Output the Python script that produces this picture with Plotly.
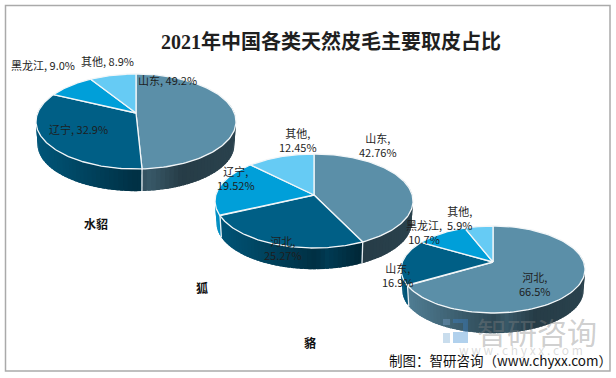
import numpy as np
import plotly.graph_objects as go

W, H = 616, 378
TITLE = "2021年中国各类天然皮毛主要取皮占比"
FOOTER = "制图：智研咨询（www.chyxx.com）"

mink_regions = ["山东", "辽宁", "黑龙江", "其他"]
mink_values = [49.2, 32.9, 9.0, 8.9]
mink_labels = ["山东, 49.2%", "辽宁, 32.9%", "黑龙江, 9.0%", "其他, 8.9%"]

fox_regions = ["山东", "河北", "辽宁", "其他"]
fox_values = [42.76, 25.27, 19.52, 12.45]
fox_labels = ["山东,<br>42.76%", "河北,<br>25.27%", "辽宁,<br>19.52%", "其他,<br>12.45%"]

raccoon_regions = ["河北", "山东", "黑龙江", "其他"]
raccoon_values = [66.5, 16.9, 10.7, 5.9]
raccoon_labels = ["河北,<br>66.5%", "山东,<br>16.9%", "黑龙江,<br>10.7%", "其他,<br>5.9%"]

COLORS = [(91, 143, 168), (0, 95, 134), (0, 159, 217), (102, 203, 244)]

# left, right, top, bottom of top face, apex y, depth
PIES = [
    dict(name="水貂", vals=mink_values, labels=mink_labels, box=(36, 236, 74, 169), apex=113, depth=23,
         lpos=[(167, 80), (78, 129), (43, 65), (107, 61)], npos=(96, 223)),
    dict(name="狐", vals=fox_values, labels=fox_labels, box=(215, 413, 154, 248), apex=195, depth=22,
         lpos=[(378, 145), (283, 248), (236, 178), (298, 140)], npos=(202, 287)),
    dict(name="貉", vals=raccoon_values, labels=raccoon_labels, box=(401, 585, 226, 313), apex=262, depth=21,
         lpos=[(535, 284), (398, 275), (424, 232), (459, 218)], npos=(310, 342)),
]


def rgb(c, f=1.0):
    return "rgb(%d,%d,%d)" % tuple(int(round(v * f)) for v in c)


def projector(box, apex):
    l, r, t, b = box
    front, back = b - apex, apex - t
    p = (front - back) / (front + back)
    k = front * (1 - p)
    R = (r - l) / 2 * np.sqrt(1 - p * p)
    cx = (l + r) / 2

    def proj(theta, scale=1.0, dy=0.0):
        u, v = np.sin(theta), -np.cos(theta)
        s = scale / (1 - p * v)
        return cx + R * u * s, apex + k * v * s + dy
    return proj


def shade(t):
    return float(np.interp(t, [0, 0.5, 0.56, 0.72, 1], [0.9, 0.5, 0.62, 0.42, 0.46]))


fig = go.Figure()


def poly(x, y, fill, line=None, width=0.0):
    fig.add_trace(go.Scatter(x=x, y=y, mode="lines", fill="toself", fillcolor=fill,
                             line=dict(color=line or fill, width=width),
                             hoverinfo="skip", showlegend=False))


for pie in PIES:
    proj = projector(pie["box"], pie["apex"])
    l, r = pie["box"][:2]
    vals = np.array(pie["vals"], float)
    edges = np.concatenate([[0], np.cumsum(vals)]) / vals.sum() * 2 * np.pi
    d = pie["depth"]
    # sides: segments overlap the next one, so no seams show
    for i, color in enumerate(COLORS):
        a0, a1 = edges[i], edges[i + 1]
        n = max(2, int((a1 - a0) / (2 * np.pi) * 160))
        cuts = np.linspace(a0, a1, n + 1)
        for s0, s1 in zip(cuts[:-1], cuts[1:]):
            if np.cos((s0 + s1) / 2) > 0.35:
                continue
            th = np.linspace(s0, min(s1 + 0.03, a1), 5)
            x0, y0 = proj(th)
            x1, y1 = proj(th[::-1], 0.985, d)
            t = (x0.mean() - l) / (r - l)
            poly(np.r_[x0, x1, x0[0]], np.r_[y0, y1, y0[0]], rgb(color, shade(t)))
    # white seams on the visible side
    for e in edges[:-1]:
        if np.cos(e) < 0.2:
            x0, y0 = proj(np.array([e]))
            x1, y1 = proj(np.array([e]), 0.985, d)
            fig.add_trace(go.Scatter(x=[x0[0], x1[0]], y=[y0[0], y1[0]], mode="lines",
                                     line=dict(color="#e8eef2", width=1.3),
                                     hoverinfo="skip", showlegend=False))
    # top faces
    cxa, cya = proj(np.array([0.0]), 0.0)
    for i, color in enumerate(COLORS):
        th = np.linspace(edges[i], edges[i + 1], 120)
        x, y = proj(th)
        poly(np.r_[cxa, x, cxa], np.r_[cya, y, cya], rgb(color), "#f2f6f8", 1.3)

annotations = [dict(x=331, y=41, text="<b>%s</b>" % TITLE, showarrow=False,
                    font=dict(size=20, color="#1f1f1f", family="Liberation Serif, Noto Sans CJK SC"))]
for pie in PIES:
    for text, (x, y) in zip(pie["labels"], pie["lpos"]):
        annotations.append(dict(x=x, y=y, text=text, showarrow=False,
                                font=dict(size=11, color="#1e1e1e", family="Noto Sans CJK SC")))
    annotations.append(dict(x=pie["npos"][0], y=pie["npos"][1], text="<b>%s</b>" % pie["name"], showarrow=False,
                            font=dict(size=12, color="#111111", family="Noto Sans CJK SC")))

annotations += [
    dict(x=537, y=331, text="智研咨询", showarrow=False,
         font=dict(size=30, color="rgba(130,130,130,0.4)", family="Noto Sans CJK SC")),
    dict(x=521, y=349, text="w w w . c h y x x . c o m", showarrow=False,
         font=dict(size=12, color="rgba(150,150,150,0.35)", family="Noto Sans CJK SC")),
    dict(x=500, y=360, text=FOOTER, showarrow=False,
         font=dict(size=13.5, color="#111111", family="Noto Sans CJK SC")),
]

shapes = [
    dict(type="rect", x0=5.5, y0=5.5, x1=610, y1=371, line=dict(color="#aaaaaa", width=1.5), layer="below"),
    dict(type="rect", x0=443, y0=319, x1=450, y1=325, fillcolor="rgba(120,160,200,0.4)", line_width=0),
    dict(type="rect", x0=453, y0=319, x1=468, y1=323, fillcolor="rgba(60,130,200,0.4)", line_width=0),
    dict(type="rect", x0=463, y0=323, x1=468, y1=332, fillcolor="rgba(60,130,200,0.4)", line_width=0),
    dict(type="rect", x0=443, y0=333, x1=450, y1=343, fillcolor="rgba(120,170,210,0.4)", line_width=0),
    dict(type="rect", x0=453, y0=332, x1=468, y1=343, fillcolor="rgba(60,140,210,0.4)", line_width=0),
]

fig.update_layout(
    width=W, height=H, margin=dict(l=0, r=0, t=0, b=0),
    paper_bgcolor="white", plot_bgcolor="white", showlegend=False,
    xaxis=dict(range=[0, W], visible=False, fixedrange=True),
    yaxis=dict(range=[H, 0], visible=False, fixedrange=True),
    annotations=annotations, shapes=shapes,
)
fig.write_html("out.html", config=dict(displayModeBar=False),
               post_script="document.body.style.margin='0';document.body.style.overflow='hidden';")
